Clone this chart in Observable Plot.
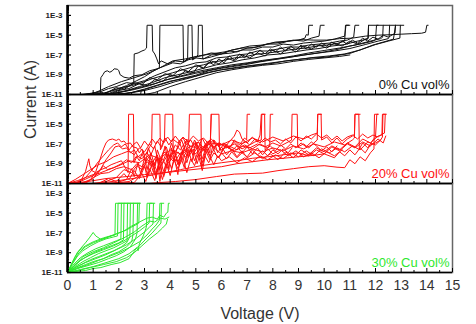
<!DOCTYPE html>
<html>
<head>
<meta charset="utf-8">
<script src="https://cdn.jsdelivr.net/npm/d3@7"></script>
<script src="https://cdn.jsdelivr.net/npm/@observablehq/plot@0.6"></script>
<style>
  html, body { margin: 0; padding: 0; background: #fff; }
  #chart svg { font-family: "Liberation Sans", Arial, sans-serif; display: block; }
</style>
</head>
<body>
<div id="chart"></div>
<script>
// Panel labels and colours
const panels = ["0% Cu vol%", "20% Cu vol%", "30% Cu vol%"];
const panelColors = ["#111111", "#ff1010", "#2ee82e"];

// x tick labels (V) and y decade exponents
const xTicks = [0,1,2,3,4,5,6,7,8,9,10,11,12,13,14,15];
const yDecades = [-11,-10,-9,-8,-7,-6,-5,-4,-3];
const yLabeled = [-11,-9,-7,-5,-3];

// Curves: [voltage (V), log10 current (A)]
const black0 = [
 [[0,-11],[0.5,-11],[0.9,-10.95],[1.28,-10.9],[1.3,-9.3],[1.38,-9.0],[1.45,-8.7],[1.55,-8.6],[1.65,-8.75],[1.75,-8.6],[1.82,-8.4],[1.95,-8.45],[2.0,-8.6],[2.05,-9.0],[2.2,-9.25],[2.4,-9.35],[2.6,-9.1],[2.9,-9.0],[3.2,-8.6],[3.5,-8.4],[3.8,-8.1],[4.1,-7.8],[4.4,-7.9],[4.7,-7.5],[5.0,-7.3],[5.3,-7.4],[5.6,-7.0],[6.0,-6.9],[6.3,-6.6],[6.6,-6.7],[7.0,-6.3],[7.4,-6.2],[7.8,-5.9],[8.2,-5.9],[8.6,-5.6],[9.0,-5.5],[9.25,-5.3],[9.3,-4.95],[9.38,-5.0],[9.4,-4],[9.55,-4]],
 [[0,-11],[0.7,-11],[1.2,-10.8],[1.6,-10.4],[1.9,-10.2],[2.3,-9.8],[2.58,-9.9],[2.6,-6.9],[2.75,-6.8],[2.9,-6.6],[3.0,-6.5],[3.08,-6.3],[3.1,-4],[3.3,-4],[3.32,-6.6],[3.4,-6.9],[3.48,-7.4],[3.55,-7.9],[3.65,-7.6],[3.9,-7.9],[4.2,-7.6],[4.5,-7.7],[4.8,-7.3],[5.2,-7.1],[5.6,-6.8],[6.0,-6.9],[6.4,-6.5],[6.8,-6.3],[7.2,-6.3],[7.6,-6.0],[8.0,-5.8],[8.4,-5.7],[8.8,-5.5],[9.2,-5.6],[9.5,-5.3],[9.8,-5.1],[9.85,-4],[10.0,-4]],
 [[0,-11],[0.9,-11],[1.4,-10.9],[1.9,-10.5],[2.3,-10.1],[2.7,-9.6],[3.0,-9.2],[3.3,-8.7],[3.58,-8.3],[3.6,-4],[4.5,-4],[4.52,-7.7],[4.6,-7.6],[4.68,-7.3],[4.7,-4],[4.85,-4],[4.87,-7.5],[5.0,-7.3],[5.08,-7.0],[5.1,-4],[5.25,-4],[5.27,-7.4],[5.6,-7.2],[6.0,-6.9],[6.4,-6.8],[6.8,-6.5],[7.2,-6.5],[7.6,-6.2],[8.0,-6.2],[8.4,-5.9],[8.8,-6.0],[9.2,-5.8],[9.6,-5.7],[10.0,-5.6],[10.4,-5.4],[10.8,-5.1],[10.85,-4],[11.0,-4]],
 [[0,-11],[1.0,-11],[1.5,-11],[1.8,-10.7],[2.2,-10.35],[2.6,-9.9],[3.0,-9.6],[3.4,-9.1],[3.8,-8.7],[4.2,-8.3],[4.6,-8.1],[5.0,-7.8],[5.4,-7.7],[5.8,-7.3],[6.2,-7.2],[6.6,-7.0],[7.0,-6.9],[7.4,-6.6],[7.8,-6.6],[8.2,-6.4],[8.6,-6.2],[9.0,-6.2],[9.4,-6.0],[9.8,-5.9],[10.2,-5.8],[10.6,-5.6],[10.9,-5.5],[11.15,-5.2],[11.2,-4],[11.35,-4]],
 [[0,-11],[1.2,-11],[1.8,-10.9],[2.3,-10.6],[2.8,-10.2],[3.3,-9.8],[3.8,-9.3],[4.3,-9.0],[4.8,-8.7],[5.3,-8.35],[5.8,-8.0],[6.3,-7.8],[6.8,-7.5],[7.3,-7.3],[7.8,-7.0],[8.3,-6.9],[8.8,-6.7],[9.3,-6.5],[9.8,-6.35],[10.3,-6.1],[10.8,-5.95],[11.3,-5.6],[11.7,-5.4],[11.73,-4],[12.1,-4]],
 [[0,-11],[1.4,-11],[2.0,-11],[2.5,-10.8],[3.0,-10.5],[3.5,-10.1],[4.0,-9.7],[4.5,-9.35],[5.0,-9.05],[5.5,-8.6],[6.0,-8.35],[6.5,-8.15],[7.0,-7.95],[7.5,-7.7],[8.0,-7.5],[8.5,-7.3],[9.0,-7.1],[9.5,-6.9],[10.0,-6.7],[10.5,-6.45],[11.0,-6.1],[11.5,-5.85],[11.9,-5.6],[12.0,-5.45],[12.04,-4],[12.3,-4]],
 [[0,-11],[0.8,-11],[1.6,-10.95],[2.2,-10.7],[2.8,-10.3],[3.4,-9.9],[4.0,-9.4],[4.6,-9.0],[5.2,-8.6],[5.8,-8.3],[6.4,-8.0],[7.0,-7.8],[7.6,-7.55],[8.2,-7.35],[8.8,-7.1],[9.4,-6.8],[10.0,-6.55],[10.6,-6.3],[11.2,-6.0],[11.8,-5.6],[12.2,-5.35],[12.28,-5.2],[12.3,-4],[12.55,-4]],
 [[0,-11],[1.1,-11],[1.9,-10.85],[2.6,-10.5],[3.2,-10.1],[3.8,-9.55],[4.4,-9.2],[5.0,-8.85],[5.6,-8.5],[6.2,-8.2],[6.8,-7.95],[7.4,-7.7],[8.0,-7.45],[8.6,-7.25],[9.2,-7.0],[9.8,-6.8],[10.4,-6.6],[11.0,-6.35],[11.6,-5.95],[12.1,-5.6],[12.5,-5.35],[12.53,-5.2],[12.55,-4],[12.78,-4]],
 [[0,-11],[1.5,-11],[2.3,-10.9],[3.0,-10.6],[3.6,-10.2],[4.2,-9.7],[4.8,-9.3],[5.4,-8.8],[6.0,-8.5],[6.6,-8.25],[7.2,-8.05],[7.8,-7.85],[8.4,-7.65],[9.0,-7.45],[9.6,-7.25],[10.2,-7.1],[10.8,-6.9],[11.4,-6.5],[11.9,-6.0],[12.3,-5.7],[12.7,-5.4],[12.78,-4],[12.97,-4]],
 [[0,-11],[0.5,-11],[1.0,-11],[1.5,-11],[2.0,-10.95],[2.5,-10.8],[3.0,-10.45],[3.5,-10.05],[4.0,-9.65],[4.5,-9.4],[5.0,-9.15],[5.5,-8.8],[6.0,-8.5],[6.5,-8.35],[7.0,-8.15],[7.5,-8.0],[8.0,-7.85],[8.5,-7.6],[9.0,-7.45],[9.5,-7.3],[10.0,-7.25],[10.5,-7.05],[11.0,-6.85],[11.5,-6.4],[12.0,-5.95],[12.5,-5.6],[12.95,-5.3],[12.97,-4],[13.1,-4]],
 [[0,-11],[0.6,-11],[1.1,-10.8],[1.6,-10.2],[2.1,-9.7],[2.6,-9.3],[3.1,-8.9],[3.6,-8.3],[4.1,-7.6],[4.6,-7.4],[5.1,-7.1],[5.6,-6.9],[6.1,-6.7],[6.6,-6.4],[7.1,-6.1],[7.6,-6.0],[8.1,-5.7],[8.6,-5.6],[9.1,-5.45],[9.6,-5.5],[10.1,-5.5],[10.6,-5.35],[11.1,-5.3],[11.6,-5.1],[12.1,-5.0],[12.6,-4.95],[13.0,-4.9],[13.4,-4.85],[13.8,-4.8],[13.95,-4.7],[14.0,-4],[14.05,-4]],
 [[0,-11],[1.3,-11],[1.7,-10.6],[2.1,-10.3],[2.5,-10.1],[2.9,-9.8],[3.3,-9.4],[3.7,-9.1],[4.1,-8.8],[4.5,-8.5],[4.9,-8.2],[5.3,-8.0],[5.7,-7.7],[6.1,-7.55],[6.5,-7.3],[6.9,-7.2],[7.3,-6.95],[7.7,-6.85],[8.1,-6.7],[8.5,-6.55],[8.9,-6.4],[9.3,-6.3],[9.7,-6.1],[10.1,-6.0],[10.5,-5.85],[10.8,-5.6],[10.83,-4],[10.95,-4]],
 [[0,-11],[1.5,-11],[2.5,-11],[2.85,-11],[2.87,-10.6],[3.0,-10.6],[3.02,-11],[3.4,-10.8],[4.0,-10.2],[4.6,-9.7],[5.2,-9.25],[5.8,-8.8],[6.4,-8.5],[7.0,-8.25],[7.6,-8.05],[8.2,-7.9],[8.8,-7.65],[9.4,-7.45],[10.0,-7.3],[10.6,-7.15],[11.0,-7.0]],
 [[0,-11],[1.6,-11],[2.0,-10.6],[2.4,-10.4],[2.8,-9.9],[3.1,-10.1],[3.4,-9.5],[3.7,-9.7],[4.0,-9.0],[4.3,-9.2],[4.6,-8.6],[4.9,-8.8],[5.1,-8.1],[5.3,-8.4],[5.5,-7.7],[5.7,-8.0],[5.9,-7.4],[6.1,-7.8],[6.3,-7.1],[6.5,-7.5],[6.7,-6.9],[6.9,-7.3],[7.1,-6.7],[7.3,-7.0],[7.5,-6.5],[7.7,-6.9],[7.9,-6.4],[8.1,-6.7],[8.3,-6.2],[8.5,-6.6],[8.7,-6.1],[8.9,-6.5],[9.1,-6.0],[9.3,-6.4],[9.5,-5.9],[9.7,-6.2],[9.9,-5.8],[10.1,-6.1],[10.3,-5.7],[10.5,-6.0],[10.7,-5.6],[10.9,-5.9],[11.1,-5.5],[11.3,-5.8],[11.5,-5.3],[11.7,-5.6],[11.9,-5.2],[12.1,-5.4],[12.3,-5.0],[12.5,-5.2],[12.7,-4.9],[12.76,-4.8],[12.78,-4]],
 [[0,-11],[0.8,-11],[1.2,-10.7],[1.5,-10.9],[1.9,-10.3],[2.2,-10.5],[2.6,-9.8],[2.9,-10.0],[3.2,-9.3],[3.5,-9.5],[3.8,-8.9],[4.1,-9.1],[4.4,-8.4],[4.7,-8.7],[5.0,-8.0],[5.3,-8.3],[5.6,-7.6],[5.9,-7.9],[6.2,-7.3],[6.5,-7.6],[6.8,-7.0],[7.1,-7.3],[7.4,-6.8],[7.7,-7.1],[8.0,-6.5],[8.3,-6.9],[8.6,-6.3],[8.9,-6.7],[9.2,-6.1],[9.5,-6.4],[9.8,-6.0],[10.1,-6.3],[10.4,-5.8],[10.7,-6.1],[11.0,-5.6],[11.3,-5.9],[11.6,-5.4],[11.72,-5.3],[11.73,-4]]
];

const red20 = [
 [[0,-11],[0.3,-11],[0.55,-10.6],[0.7,-9.8],[0.78,-9.0],[0.83,-8.5],[0.87,-9.2],[0.95,-9.7],[1.1,-9.9],[1.3,-9.6],[1.5,-9.4],[1.7,-9.1],[1.9,-8.9],[2.1,-8.7],[2.25,-9.4],[2.36,-9.9],[2.38,-4],[2.57,-4],[2.59,-8.9],[2.7,-8.3],[2.8,-8.7],[2.95,-7.7],[3.05,-8.8],[3.15,-7.4],[3.25,-8.1],[3.4,-7.2],[3.5,-8.5],[3.6,-9.6],[3.7,-8.0],[3.85,-7.3],[4.0,-8.6],[4.15,-7.6],[4.3,-9.1],[4.45,-7.8],[4.6,-7.1],[4.7,-8.4],[4.9,-7.5],[5.05,-9.0],[5.2,-7.7],[5.4,-7.0],[5.55,-7.9],[5.6,-4],[5.9,-4],[5.92,-7.6],[6.1,-7.0],[6.3,-7.5],[6.5,-6.6],[6.7,-7.1],[6.9,-6.4],[6.98,-6.6],[7.0,-4],[7.1,-4]],
 [[0,-11],[0.5,-11],[0.9,-10.6],[1.1,-9.8],[1.25,-8.7],[1.4,-7.5],[1.5,-6.9],[1.6,-6.6],[1.75,-6.5],[1.9,-6.65],[2.0,-6.5],[2.1,-6.8],[2.2,-6.7],[2.3,-7.0],[2.45,-6.9],[2.55,-7.3],[2.7,-7.4],[2.8,-7.9],[2.9,-7.5],[3.0,-8.2],[3.1,-7.8],[3.2,-7.3],[3.28,-7.0],[3.3,-4],[3.6,-4],[3.62,-7.6],[3.7,-7.2],[3.78,-6.5],[3.8,-4],[4.1,-4],[4.12,-8.0],[4.3,-7.4],[4.45,-6.6],[4.6,-7.8],[4.72,-6.9],[4.75,-4],[5.2,-4],[5.22,-9.5],[5.35,-8.2],[5.5,-8.9],[5.7,-7.9],[5.9,-8.4],[6.1,-7.4],[6.3,-6.8],[6.5,-6.2],[6.6,-5.6],[6.7,-5.8],[6.8,-6.5],[7.0,-6.9],[7.2,-6.3],[7.4,-6.8],[7.5,-6.1],[7.55,-4],[7.7,-4]],
 [[0,-11],[0.4,-10.7],[0.8,-10.3],[1.2,-9.9],[1.4,-9.2],[1.55,-9.6],[1.8,-9.4],[2.1,-9.0],[2.3,-8.6],[2.5,-8.9],[2.7,-8.2],[2.9,-8.5],[3.1,-7.9],[3.3,-8.7],[3.5,-9.8],[3.6,-8.4],[3.8,-7.8],[4.0,-8.3],[4.2,-7.1],[4.4,-7.6],[4.6,-6.7],[4.8,-7.3],[5.0,-6.8],[5.2,-7.9],[5.4,-7.2],[5.6,-6.5],[5.8,-7.0],[6.0,-7.6],[6.3,-7.2],[6.6,-7.6],[6.9,-7.1],[7.2,-7.5],[7.5,-7.0],[7.8,-7.4],[7.88,-7.1],[7.9,-4],[8.0,-4]],
 [[0,-11],[0.7,-11],[1.0,-10.4],[1.3,-10.0],[1.6,-9.9],[1.9,-9.5],[2.2,-9.3],[2.5,-9.6],[2.7,-9.0],[2.9,-9.3],[3.1,-8.6],[3.3,-8.9],[3.5,-8.1],[3.6,-9.2],[3.75,-10.3],[3.9,-9.0],[4.1,-8.4],[4.3,-8.8],[4.5,-7.7],[4.7,-8.2],[4.9,-7.1],[5.1,-6.8],[5.3,-7.4],[5.5,-6.7],[5.7,-7.3],[5.9,-6.9],[6.2,-7.3],[6.5,-7.7],[6.8,-7.2],[7.1,-7.4],[7.4,-7.0],[7.7,-7.3],[8.0,-6.9],[8.3,-7.2],[8.6,-6.8],[8.73,-6.6],[8.75,-4],[8.95,-4],[8.97,-7.3],[9.2,-7.0],[9.4,-7.4],[9.6,-6.9],[9.73,-6.6],[9.75,-4],[9.9,-4]],
 [[0,-11],[0.6,-11],[1.0,-10.5],[1.3,-9.5],[1.5,-8.6],[1.7,-7.9],[1.85,-7.3],[2.0,-7.2],[2.15,-7.5],[2.3,-7.4],[2.45,-7.9],[2.6,-7.6],[2.75,-8.3],[2.9,-8.0],[3.05,-8.8],[3.2,-8.2],[3.35,-9.4],[3.45,-10.5],[3.55,-9.0],[3.7,-8.5],[3.85,-9.3],[4.0,-8.0],[4.2,-8.7],[4.4,-7.9],[4.6,-8.3],[4.8,-7.6],[5.0,-8.0],[5.2,-7.3],[5.4,-7.8],[5.6,-7.1],[5.8,-7.6],[6.0,-8.0],[6.4,-7.7],[6.8,-7.9],[7.2,-7.5],[7.6,-7.8],[8.0,-7.4],[8.4,-7.7],[8.8,-7.2],[9.2,-7.5],[9.6,-7.0],[10.0,-7.3],[10.4,-6.8],[10.8,-7.1],[11.1,-6.6],[11.18,-6.4],[11.2,-4],[11.4,-4]],
 [[0,-11],[1.0,-11],[2.0,-10.95],[2.8,-11],[3.2,-11],[3.6,-10.9],[4.2,-10.8],[5.0,-10.6],[5.8,-10.3],[6.5,-10.05],[7.0,-10.0],[7.6,-9.95],[8.2,-9.7],[8.8,-9.5],[9.4,-9.3],[10.0,-9.2],[10.5,-9.35],[10.8,-9.4],[11.0,-8.6],[11.2,-9.0],[11.4,-8.3],[11.6,-8.7],[11.8,-7.9],[11.94,-7.5],[11.96,-4],[12.1,-4]],
 [[0,-11],[0.8,-10.8],[1.5,-10.5],[2.3,-10.3],[3.0,-10.1],[3.8,-9.9],[4.5,-9.7],[5.2,-9.5],[6.0,-9.3],[6.6,-9.0],[7.2,-8.8],[7.8,-8.6],[8.4,-8.45],[9.0,-8.3],[9.6,-8.15],[10.0,-8.0],[10.4,-8.4],[10.6,-7.8],[10.8,-8.2],[11.0,-7.6],[11.2,-8.1],[11.4,-7.4],[11.6,-7.9],[11.8,-7.1],[12.0,-6.9],[12.2,-6.6],[12.27,-6.3],[12.29,-4],[12.4,-4]],
 [[0,-11],[1.2,-11],[2.0,-10.7],[2.8,-10.4],[3.6,-10.0],[4.4,-9.6],[5.2,-9.2],[6.0,-8.9],[6.6,-8.7],[7.2,-8.45],[7.8,-8.3],[8.4,-8.1],[9.0,-7.9],[9.4,-8.2],[9.7,-7.6],[10.0,-8.0],[10.3,-7.3],[10.6,-7.7],[10.9,-7.0],[11.2,-7.4],[11.5,-6.8],[11.8,-7.2],[12.1,-6.5],[12.3,-6.9],[12.4,-6.2]],
 [[0,-11],[1.6,-11],[2.4,-10.8],[2.8,-10.2],[3.0,-9.1],[3.1,-10.4],[3.2,-8.7],[3.35,-9.9],[3.5,-8.3],[3.6,-10.8],[3.7,-8.9],[3.85,-7.9],[3.95,-9.6],[4.05,-7.4],[4.2,-8.9],[4.3,-10.1],[4.4,-8.2],[4.55,-9.4],[4.7,-7.6],[4.85,-8.8],[5.0,-6.9],[5.1,-8.1],[5.25,-9.7],[5.4,-7.8],[5.55,-8.6],[5.7,-6.6],[5.85,-7.9],[6.0,-7.3],[6.2,-8.1],[6.4,-7.5],[6.6,-8.3],[6.8,-7.7],[7.0,-8.4],[7.3,-7.9],[7.6,-8.5],[7.9,-8.0],[8.2,-8.6],[8.5,-7.8],[8.8,-8.4],[9.1,-7.6],[9.4,-8.1],[9.7,-7.4],[10.0,-7.8],[10.3,-7.2],[10.6,-7.6],[10.9,-6.9],[11.2,-7.3],[11.5,-6.5],[11.8,-6.9],[12.1,-6.2],[12.25,-6.1],[12.27,-4],[12.35,-4]],
 [[0,-11],[2.0,-11],[2.6,-10.9],[2.9,-10.0],[3.05,-10.8],[3.2,-9.5],[3.4,-10.7],[3.55,-9.2],[3.7,-10.6],[3.85,-9.0],[4.0,-10.2],[4.15,-8.6],[4.3,-9.5],[4.5,-8.4],[4.65,-9.9],[4.8,-8.5],[4.95,-9.2],[5.1,-8.0],[5.25,-8.9],[5.4,-7.5],[5.55,-8.3],[5.7,-9.1],[5.85,-8.2],[6.0,-8.7],[6.3,-8.3],[6.6,-8.9],[6.9,-8.4],[7.2,-8.8],[7.5,-8.2],[7.8,-8.6],[8.1,-8.1],[8.4,-8.5],[8.7,-7.9],[9.0,-8.3],[9.3,-7.7],[9.6,-8.2],[9.9,-7.5],[10.2,-7.9],[10.5,-7.4],[10.8,-7.8],[11.1,-7.2],[11.4,-7.6],[11.7,-6.8],[12.0,-7.1],[12.2,-6.6]],
 [[0,-11],[0.3,-10.6],[0.6,-10.1],[0.9,-9.6],[1.2,-9.1],[1.5,-8.8],[1.8,-8.3],[2.1,-8.0],[2.4,-7.7],[2.6,-8.1],[2.8,-7.4],[3.0,-7.8],[3.2,-7.0],[3.35,-7.5],[3.5,-6.7],[3.65,-7.3],[3.8,-6.4],[3.95,-7.1],[4.1,-6.5],[4.3,-6.9],[4.5,-6.3],[4.7,-6.8],[4.9,-6.2],[5.1,-6.7],[5.3,-6.4],[5.5,-7.0],[5.7,-6.6],[5.9,-7.2],[6.1,-6.9],[6.3,-7.4],[6.5,-6.8],[6.7,-7.3],[6.9,-6.7],[7.1,-7.1],[7.3,-6.5],[7.5,-6.9],[7.7,-6.4],[7.9,-6.8],[8.1,-6.6],[8.3,-7.0],[8.5,-6.5],[8.7,-6.9],[8.9,-6.3],[9.1,-6.7],[9.3,-6.2],[9.5,-6.5],[9.7,-6.0],[9.9,-6.4],[10.1,-6.1],[10.3,-6.6],[10.5,-6.2],[10.7,-6.7],[10.9,-6.3],[11.1,-6.1],[11.3,-6.5],[11.5,-6.0],[11.7,-6.4],[11.9,-6.1],[12.1,-6.3],[12.25,-6.0],[12.35,-5.9],[12.38,-4],[12.42,-4]],
 [[0,-11],[0.5,-10.8],[1.0,-10.2],[1.5,-9.7],[2.0,-9.2],[2.4,-8.7],[2.8,-8.9],[3.2,-8.1],[3.6,-8.5],[4.0,-7.6],[4.4,-8.0],[4.8,-7.2],[5.2,-7.6],[5.6,-6.9],[6.0,-7.1],[6.4,-6.6],[6.8,-7.0],[7.2,-6.4],[7.6,-6.8],[8.0,-6.3],[8.4,-6.7],[8.8,-6.2],[9.2,-6.5],[9.5,-6.1],[9.73,-5.9],[9.75,-4],[9.88,-4],[9.9,-6.6],[10.1,-6.3],[10.3,-6.9],[10.5,-6.4],[10.7,-7.0],[10.9,-6.5],[11.1,-6.2],[11.18,-6.0],[11.2,-4],[11.35,-4],[11.37,-7.5],[11.5,-6.9],[11.7,-7.4],[11.9,-6.6],[12.0,-6.3],[12.05,-4],[12.1,-4]],
 [[0,-11],[1.0,-11],[1.5,-10.8],[1.9,-10.4],[2.2,-9.6],[2.5,-9.9],[2.7,-9.2],[2.9,-9.6],[3.1,-8.8],[3.3,-9.3],[3.5,-8.5],[3.7,-9.0],[3.9,-8.1],[4.1,-8.7],[4.3,-7.8],[4.5,-8.4],[4.7,-7.5],[4.9,-8.0],[5.1,-7.2],[5.3,-7.7],[5.5,-7.0],[5.7,-7.4],[5.9,-6.9],[6.2,-7.4],[6.5,-7.0],[6.8,-7.5],[7.1,-7.1],[7.3,-6.8],[7.55,-6.6],[7.57,-4],[7.68,-4],[7.7,-7.6],[7.9,-7.2],[8.1,-7.7],[8.3,-7.1],[8.5,-7.5],[8.7,-7.0],[8.9,-7.4],[9.1,-6.9],[9.3,-7.3],[9.5,-6.8],[9.7,-7.2],[9.9,-7.7],[10.1,-7.3],[10.3,-7.8],[10.5,-7.2]],
 [[0,-11],[1.8,-11],[2.3,-10.6],[2.5,-9.5],[2.6,-10.3],[2.75,-8.9],[2.85,-10.0],[3.0,-8.4],[3.1,-9.6],[3.25,-7.9],[3.4,-9.2],[3.5,-7.6],[3.65,-8.7],[3.8,-7.2],[3.9,-8.4],[4.05,-6.9],[4.2,-8.1],[4.35,-6.7],[4.5,-7.9],[4.65,-6.5],[4.8,-7.7],[4.95,-6.6],[5.1,-7.4],[5.25,-6.4],[5.4,-7.2],[5.55,-6.7],[5.7,-7.6],[5.85,-6.9],[6.0,-7.8],[6.2,-7.0],[6.4,-7.7],[6.6,-7.2],[6.8,-7.9],[7.0,-7.3],[7.2,-8.0],[7.4,-7.4],[7.6,-8.1],[7.8,-7.5],[8.0,-8.0],[8.3,-7.6],[8.6,-8.2],[8.9,-7.7],[9.2,-8.3],[9.5,-7.9],[9.8,-8.4],[10.1,-7.8],[10.4,-8.2],[10.7,-7.6]],
 [[0,-11],[1.2,-11],[1.6,-10.5],[1.9,-10.8],[2.2,-10.0],[2.4,-10.6],[2.6,-9.7],[2.8,-10.5],[3.0,-9.3],[3.15,-10.2],[3.3,-8.9],[3.45,-10.0],[3.6,-8.6],[3.75,-9.8],[3.9,-8.3],[4.05,-9.5],[4.2,-8.0],[4.35,-9.2],[4.5,-7.8],[4.65,-8.9],[4.8,-7.5],[4.95,-8.7],[5.1,-7.7],[5.25,-8.5],[5.4,-7.3],[5.55,-8.2],[5.7,-7.6],[5.85,-8.4],[6.0,-7.9],[6.2,-8.5],[6.4,-7.8],[6.6,-8.4],[6.8,-7.9],[7.0,-8.3],[7.2,-7.6],[7.4,-8.1],[7.6,-7.7],[7.8,-8.2],[8.0,-7.6],[8.2,-8.0],[8.4,-7.5],[8.6,-7.9],[8.75,-7.4]],
 [[0,-11],[0.4,-10.9],[0.7,-10.4],[1.0,-9.5],[1.2,-8.8],[1.4,-8.2],[1.6,-7.6],[1.8,-7.1],[1.95,-6.9],[2.1,-7.3],[2.25,-7.0],[2.4,-7.6],[2.55,-7.1],[2.7,-6.8],[2.85,-7.4],[3.0,-6.7],[3.15,-7.2],[3.3,-6.5],[3.45,-7.0],[3.6,-6.4],[3.75,-6.9],[3.9,-6.3],[4.05,-6.8],[4.2,-6.2],[4.35,-6.7],[4.5,-6.4],[4.65,-7.1],[4.8,-6.6],[4.95,-7.3],[5.1,-6.8],[5.25,-7.5],[5.4,-6.9],[5.57,-6.6],[5.6,-4]]
];

const green30 = [
 [[0,-11],[0.15,-10.2],[0.3,-9.4],[0.5,-8.6],[0.7,-8.0],[0.85,-7.5],[1.0,-6.95],[1.1,-7.3],[1.3,-7.65],[1.5,-7.5],[1.7,-7.3],[1.85,-7.2],[1.87,-4],[2.83,-4]],
 [[0,-11],[0.2,-10.1],[0.4,-9.3],[0.6,-8.8],[0.9,-8.3],[1.2,-7.9],[1.5,-7.6],[1.8,-7.4],[1.95,-7.3],[1.97,-4],[2.1,-4]],
 [[0,-11],[0.2,-10.3],[0.5,-9.5],[0.8,-9.0],[1.1,-8.6],[1.4,-8.3],[1.7,-8.0],[1.9,-7.8],[2.08,-7.6],[2.1,-4],[2.2,-4]],
 [[0,-11],[0.25,-10.4],[0.5,-9.8],[0.8,-9.3],[1.1,-8.9],[1.4,-8.6],[1.7,-8.3],[2.0,-8.0],[2.18,-7.7],[2.2,-4],[2.35,-4]],
 [[0,-11],[0.3,-10.4],[0.6,-9.9],[0.9,-9.5],[1.2,-9.1],[1.5,-8.8],[1.8,-8.5],[2.1,-8.1],[2.32,-7.8],[2.34,-4],[2.45,-4]],
 [[0,-11],[0.3,-10.5],[0.6,-10.1],[0.9,-9.7],[1.2,-9.4],[1.5,-9.1],[1.8,-8.8],[2.1,-8.4],[2.3,-8.0],[2.43,-7.4],[2.45,-4],[2.57,-4]],
 [[0,-11],[0.3,-10.6],[0.7,-10.2],[1.0,-9.9],[1.4,-9.6],[1.7,-9.2],[2.0,-8.9],[2.3,-8.4],[2.5,-7.9],[2.55,-7.2],[2.57,-4],[2.73,-4]],
 [[0,-11],[0.4,-10.6],[0.8,-10.3],[1.2,-10.0],[1.6,-9.6],[1.9,-9.3],[2.2,-8.9],[2.45,-8.4],[2.65,-7.6],[2.71,-7.0],[2.73,-4],[2.8,-4]],
 [[0,-11],[0.2,-10.0],[0.45,-9.0],[0.7,-8.4],[1.0,-8.0],[1.3,-7.7],[1.6,-7.4],[1.9,-7.1],[2.1,-6.9],[2.3,-6.7],[2.5,-6.4],[2.65,-6.2],[2.78,-6.0],[2.8,-4],[2.83,-4]],
 [[0,-11],[0.3,-10.9],[0.7,-10.8],[1.0,-10.6],[1.3,-10.5],[1.7,-10.2],[2.05,-10.0],[2.4,-9.6],[2.7,-8.5],[2.75,-8.8],[2.8,-8.1],[2.95,-7.3],[3.05,-6.6],[3.08,-6.3],[3.1,-4],[3.35,-4]],
 [[0,-11],[0.25,-10.3],[0.6,-9.6],[1.0,-9.1],[1.4,-8.7],[1.8,-8.3],[2.2,-7.8],[2.5,-7.3],[2.8,-6.8],[3.0,-6.4],[3.18,-6.0],[3.2,-4],[3.3,-4]],
 [[0,-11],[0.3,-10.5],[0.7,-10.0],[1.1,-9.6],[1.5,-9.2],[1.9,-8.7],[2.3,-8.2],[2.7,-7.5],[3.0,-6.9],[3.2,-6.4],[3.33,-6.1],[3.35,-4],[3.4,-4]],
 [[0,-11],[0.35,-10.6],[0.8,-10.2],[1.2,-9.8],[1.6,-9.4],[2.0,-9.0],[2.4,-8.5],[2.8,-7.9],[3.1,-7.2],[3.3,-6.6],[3.45,-6.2],[3.58,-5.7],[3.6,-4],[3.66,-4]],
 [[0,-11],[0.5,-10.7],[1.0,-10.4],[1.5,-10.0],[2.0,-9.6],[2.4,-9.1],[2.8,-8.3],[3.1,-7.5],[3.3,-7.0],[3.5,-6.4],[3.64,-6.0],[3.66,-4],[3.75,-4]],
 [[0,-11],[0.2,-9.9],[0.4,-8.9],[0.7,-8.3],[1.0,-7.9],[1.4,-7.5],[1.8,-7.2],[2.2,-6.8],[2.5,-6.3],[2.8,-5.9],[3.1,-5.5],[3.3,-5.4],[3.5,-5.6],[3.6,-5.2],[3.75,-5.4],[3.85,-5.0],[3.91,-4.9],[3.93,-4],[3.97,-4]],
 [[0,-11],[0.3,-10.2],[0.6,-9.4],[1.0,-8.9],[1.4,-8.5],[1.8,-8.0],[2.2,-7.5],[2.6,-6.9],[2.9,-6.3],[3.2,-5.8],[3.4,-5.9],[3.6,-5.5],[3.8,-5.6],[3.95,-5.4]],
 [[0,-11],[0.4,-10.8],[0.9,-10.5],[1.4,-10.2],[1.9,-9.9],[2.3,-9.5],[2.6,-9.0],[2.9,-8.3],[3.2,-7.6],[3.5,-7.0],[3.7,-6.5],[3.85,-6.1],[3.9,-5.6]]
];

// Build a tidy table for Plot
const rows = [];
[black0, red20, green30].forEach((set, p) => {
  set.forEach((curve, c) => {
    curve.forEach(([v, e]) => rows.push({panel: panels[p], curve: `${p}-${c}`, v, i: Math.pow(10, e)}));
  });
});

const majorY = yDecades.map(e => Math.pow(10, e));
const labelY = yLabeled.map(e => Math.pow(10, e));
const minorY = [];
yDecades.forEach(e => { for (let k = 2; k <= 9; k++) minorY.push(k * Math.pow(10, e)); });
const minorX = xTicks.slice(0, -1).map(v => v + 0.5);
const fmtE = d => "1E" + Math.round(Math.log10(d));

const chart = Plot.plot({
  width: 476,
  height: 324,
  marginLeft: 67,
  marginRight: 24,
  marginTop: 4,
  marginBottom: 51,
  x: {domain: [0, 15]},
  y: {type: "log", domain: [1e-11, 1e-2]},
  fy: {domain: panels, padding: 0, axis: null, label: null},
  color: {domain: panels, range: panelColors},
  marks: [
    Plot.frame({stroke: "#666", strokeWidth: 1.5}),
    Plot.line(rows, {x: "v", y: "i", z: "curve", fy: "panel", stroke: "panel", strokeWidth: 1, curve: "linear"}),
    Plot.ruleY([1e-11], {stroke: "#000", strokeWidth: 1.5}),
    Plot.ruleX([0], {stroke: "#000", strokeWidth: 2.5}),
    // y ticks (inward) and labels
    Plot.axisY({ticks: majorY, tickSize: -4, tickFormat: () => "", strokeWidth: 1.2, label: null}),
    Plot.axisY({ticks: minorY, tickSize: -2, tickFormat: () => "", label: null}),
    Plot.axisY({ticks: labelY, tickSize: 0, tickPadding: 5, tickFormat: fmtE, fontSize: 8, fontWeight: "bold", fill: "#222", label: null}),
    // x ticks on every panel (inward)
    Plot.axisX({ticks: xTicks, tickSize: -4, tickFormat: () => "", facetAnchor: null, label: null}),
    Plot.axisX({ticks: minorX, tickSize: -2, tickFormat: () => "", facetAnchor: null, label: null}),
    // x labels on bottom panel only
    Plot.axisX({ticks: xTicks, tickSize: 0, tickPadding: 8, fontSize: 14, fill: "#333", label: null}),
    // panel annotations
    Plot.text(panels, {fy: d => d, text: d => d, fill: d => d, frameAnchor: "bottom-right", dx: -3, dy: -6, fontSize: 13}),
    // axis titles
    Plot.text(["Voltage (V)"], {fy: () => panels[2], text: d => d, frameAnchor: "bottom", dy: 41, fontSize: 16, fill: "#333", lineAnchor: "middle"}),
    Plot.text(["Current (A)"], {fy: () => panels[1], text: d => d, frameAnchor: "left", dx: -37, rotate: -90, fontSize: 16, fill: "#333", lineAnchor: "middle"})
  ]
});

document.getElementById("chart").appendChild(chart);
</script>
</body>
</html>
